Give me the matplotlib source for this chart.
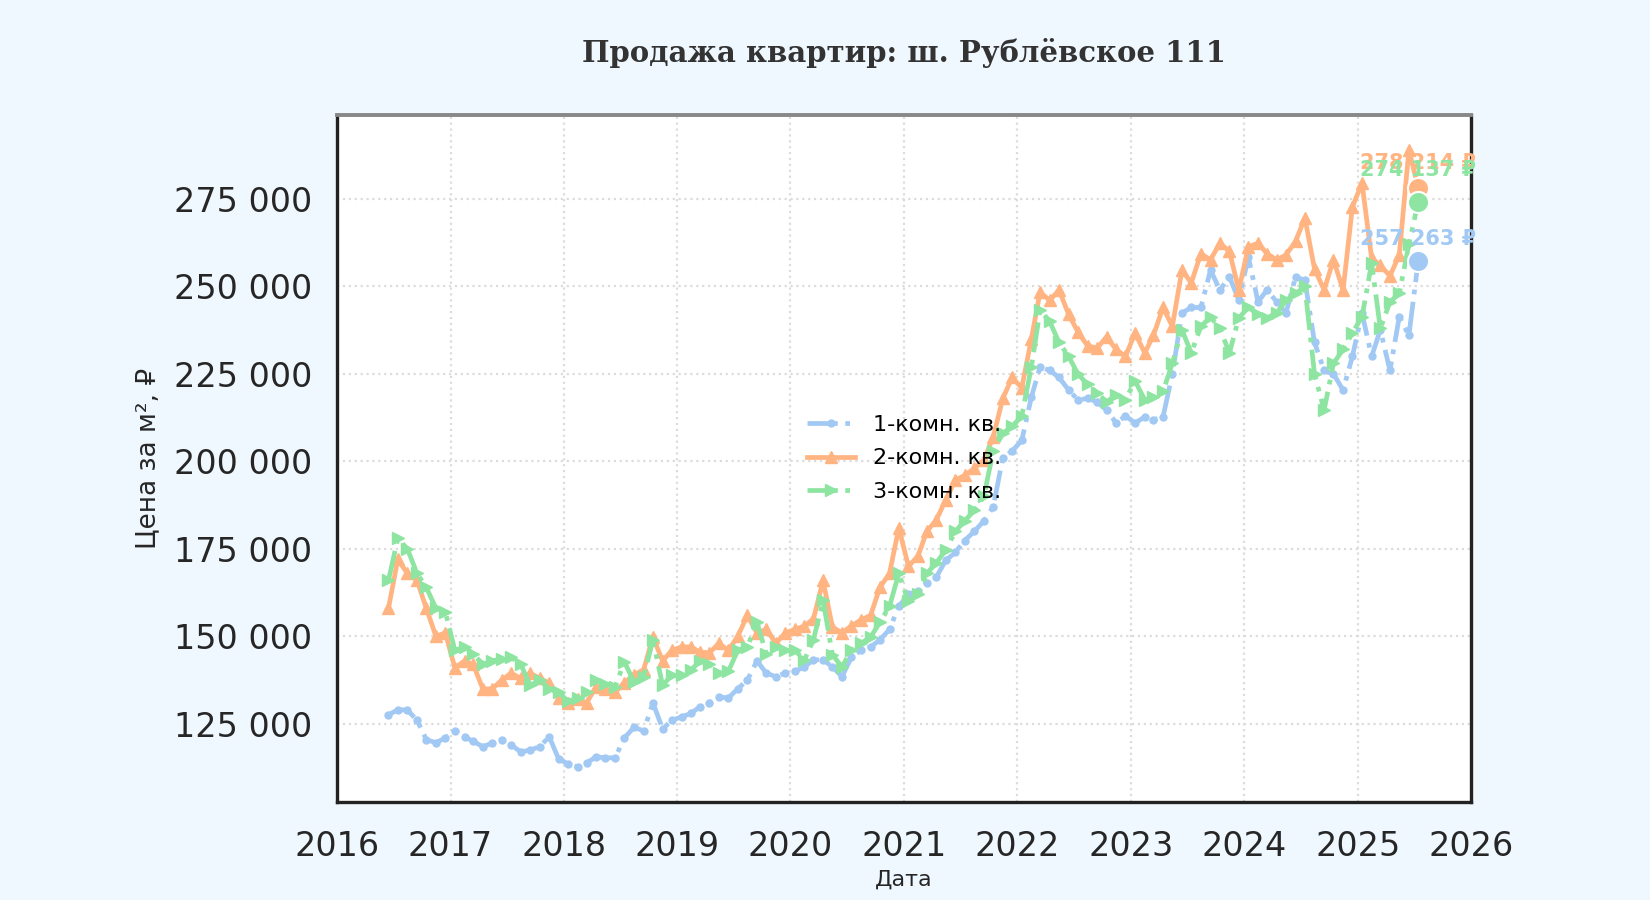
import matplotlib

matplotlib.use("Agg")
import matplotlib.pyplot as plt  # noqa: E402
import matplotlib.ticker as mticker  # noqa: E402
import pandas as pd  # noqa: E402

# monthly samples, mid-month, Jun 2016 .. Jul 2025
MONTHS = pd.date_range("2016-06-01", "2025-07-01", freq="MS") + pd.Timedelta(days=14)

# price per m2, thousands of rubles
ROOM1 = [
    127.6, 129, 129, 126, 120.5, 119.6, 121,
    123, 121.3, 120, 118.5, 119.5, 120.5, 119, 117, 117.5, 118.5, 121.3, 115,
    113.5, 112.7, 113.8, 115.6, 115.3, 115.3, 121, 124, 123, 131, 123.6, 126,
    127, 128, 129.9, 131, 132.7, 132.4, 135, 137.5, 143, 139.5, 138.5, 139.5,
    140, 141.3, 143.3, 143.3, 141.3, 138.5, 144, 146, 147, 149, 152, 158.6,
    162, 163, 165.4, 167, 171.7, 174, 177.4, 180, 183, 187, 201, 203,
    206, 218.4, 227, 226, 224, 220.4, 217.6, 218, 217, 214.7, 211, 213,
    211, 212.7, 211.9, 212.7, 225, 242.4, 244, 244, 254.7, 249, 252.7, 246.2,
    258.4, 245.6, 249, 245.6, 242.4, 252.7, 251.8, 234, 226, 225, 220.4, 230,
    242.4, 230, 237.6, 226, 241.3, 236, 257.263,
]
ROOM2 = [
    158, 172, 168, 166, 158, 150, 151,
    141, 143, 142, 135, 135, 137.5, 139.5, 138, 139.5, 138, 136.7, 132.4,
    131, 132, 131, 135.6, 135, 134, 136.8, 139, 140.5, 149.8, 143, 146,
    147, 147, 145.5, 145.3, 148, 146, 150, 156, 151, 152, 148, 151,
    152, 153, 155, 166, 152.7, 151, 153, 154.7, 156, 164, 168, 181,
    170, 173, 180, 183.3, 189, 194.7, 196, 198, 200.4, 207, 218, 224,
    221, 235, 248.4, 246, 249, 242, 237, 233, 232.4, 235.6, 232, 230,
    236.7, 231, 236, 244, 238.6, 254.7, 251, 259.4, 257.6, 262.4, 260, 249,
    261.3, 262.4, 259.4, 257.6, 259, 262.9, 269.6, 255, 249, 257.6, 249, 272.7,
    279.6, 258, 256, 253, 259, 289, 278.214,
]
ROOM3 = [
    166, 178, 175, 168, 164, 158, 157,
    146, 147, 145, 142, 143, 143.5, 144, 142, 136, 137.5, 135, 134,
    131.4, 132.5, 134, 137.5, 136.5, 135.6, 142.7, 137, 138.5, 149, 136, 139,
    139, 140.4, 143, 142, 139.5, 140, 146, 147, 154, 145, 147, 146,
    146, 143.3, 149, 160.4, 144.7, 141.3, 146, 148, 149.8, 154, 158.6, 168,
    160, 162, 168, 171, 174.7, 180, 183, 186, 190, 203, 208, 210,
    213, 227, 243.3, 240, 234, 230, 225, 222, 219.6, 217, 219, 217.6,
    223, 217.6, 218.4, 220, 228, 237.6, 231, 238.6, 241.3, 238, 231, 241,
    244, 242, 241, 242.4, 246, 248, 250, 225, 214.7, 228, 232, 236.7,
    241.3, 256.7, 238, 245.6, 248, 262, 274.137,
]

LABELS = ["1-комн. кв.", "2-комн. кв.", "3-комн. кв."]
COLORS = ["#a1c9f4", "#ffb482", "#8de5a1"]
MARKERS = [".", "^", ">"]
STYLES = ["-.", "-", "-."]
TEXT_OFFSET = [16, 18, 23]  # points above the last dot


def rub(v: float) -> str:
    return f"{v:,.0f}".replace(",", " ")


fig = plt.figure(figsize=(16.5, 9), dpi=100, facecolor="#f0f8ff")
ax = fig.add_axes([0.2042, 0.109, 0.6873, 0.7636])
ax.set_facecolor("white")

series = [ROOM1, ROOM2, ROOM3]
for vals, lab, col, mk, ls in zip(series, LABELS, COLORS, MARKERS, STYLES):
    y = [v * 1000 for v in vals]
    ax.plot(MONTHS, y, ls=ls, marker=mk, color=col, lw=3.4,
            ms=10 if mk == "." else 8.5, label=lab, zorder=2)

for vals, col, off in zip(series, COLORS, TEXT_OFFSET):
    last = vals[-1] * 1000
    ax.scatter([MONTHS[-1]], [last], s=230, color=col, edgecolor="white",
               linewidth=1.5, zorder=4)
    ax.annotate(f"{rub(last)} ₽", (MONTHS[-1], last), xytext=(0, off),
                textcoords="offset points", ha="center", va="center",
                fontsize=15, fontweight="bold", color=col, zorder=5)

ax.set_xlim(pd.Timestamp("2016-01-01"), pd.Timestamp("2026-01-01"))
ax.set_ylim(102700, 299100)
ax.xaxis.set_major_locator(matplotlib.dates.YearLocator())
ax.xaxis.set_major_formatter(matplotlib.dates.DateFormatter("%Y"))
ax.yaxis.set_major_locator(mticker.MultipleLocator(25000))
ax.yaxis.set_major_formatter(mticker.FuncFormatter(lambda v, _: rub(v)))
ax.tick_params(axis="both", length=0, labelsize=24, colors="#262626")
ax.tick_params(axis="y", pad=18)
ax.tick_params(axis="x", pad=20)

ax.grid(True, ls=":", lw=1.6, color="#dcdcdc")
for side in ("left", "bottom", "right"):
    ax.spines[side].set_color("#222222")
    ax.spines[side].set_linewidth(2.4)
ax.spines["top"].set_color("#888888")
ax.spines["top"].set_linewidth(2.8)

ax.set_xlabel("Дата", fontsize=16, color="#262626", labelpad=5)
ax.set_ylabel("Цена за м², ₽", fontsize=19, color="#262626", labelpad=9)
ax.set_title("Продажа квартир: ш. Рублёвское 111", family="DejaVu Serif",
             fontweight="bold", fontsize=21, color="#333333", pad=38)

ax.legend(loc="center", frameon=False, fontsize=16, handlelength=2.2,
          labelspacing=0.62)

fig.savefig("out.png", dpi=100, facecolor=fig.get_facecolor())
